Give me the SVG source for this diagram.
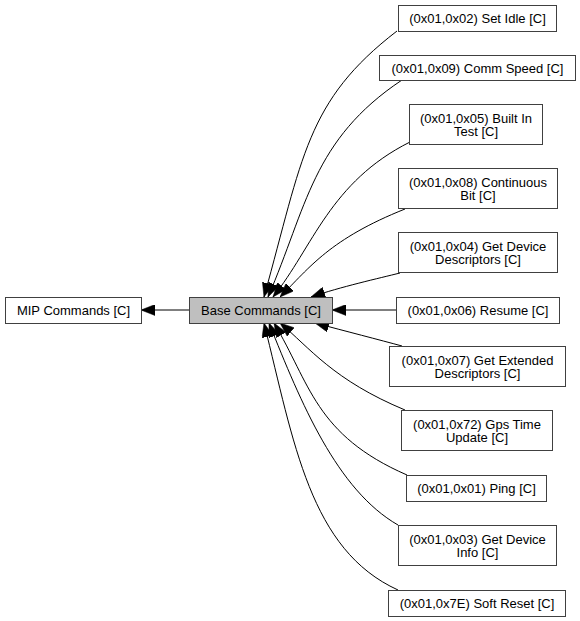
<svg xmlns="http://www.w3.org/2000/svg" width="580" height="621" viewBox="0 0 580 621">
<style>
.n rect{fill:#ffffff;stroke:#404040;stroke-width:1}
#base rect{fill:#bfbfbf}
text{font-family:"Liberation Sans",Arial,sans-serif;font-size:13px;fill:#000;text-anchor:middle}
.e path{fill:none;stroke:#000;stroke-width:1;marker-end:url(#ah)}
</style>
<defs>
<marker id="ah" markerUnits="userSpaceOnUse" markerWidth="14" markerHeight="11" viewBox="0 0 14 11" refX="14" refY="5.5" orient="auto">
<path d="M0,0 L14,5.5 L0,11 z" fill="#000" stroke="#000" stroke-width="0.5"/>
</marker>
</defs>
<rect width="580" height="621" fill="#fff"/>
<g class="e" id="edges">
<path d="M189,310 L141,310"/>
<path d="M397,31 C306,101 303,157 264,297"/>
<path d="M402,80 C312,140 307,207 268,297"/>
<path d="M410,142 C330,182 313,247 273,297"/>
<path d="M405,209 C330,239 310,267 280,297"/>
<path d="M400,273 C380,278 340,287 311,297"/>
<path d="M396,310 L332,310"/>
<path d="M402,346 C380,340 345,331 315,323"/>
<path d="M405,410 C333,380 310,348 280,323"/>
<path d="M407,475 C315,435 310,383 274,323"/>
<path d="M398,525 C337,490 301,403 269,323"/>
<path d="M398,590 C310,550 294,443 264,323"/>
</g>
<g class="n" id="mip"><rect x="5.5" y="297.5" width="136" height="26"/><text x="73.5" y="315">MIP Commands [C]</text></g>
<g class="n" id="base"><rect x="189.5" y="297.5" width="143" height="26"/><text x="261" y="315">Base Commands [C]</text></g>
<g class="n" id="setidle"><rect x="398.5" y="5.5" width="158" height="26"/><text x="477.5" y="23">(0x01,0x02) Set Idle [C]</text></g>
<g class="n" id="commspeed"><rect x="379.5" y="55.5" width="196" height="25"/><text x="477.5" y="72.5">(0x01,0x09) Comm Speed [C]</text></g>
<g class="n" id="builtin"><rect x="409.5" y="104.5" width="133" height="40"/><text x="476" y="122.5">(0x01,0x05) Built In</text><text x="476" y="136">Test [C]</text></g>
<g class="n" id="contbit"><rect x="398.5" y="168.5" width="159" height="40"/><text x="478" y="186.5">(0x01,0x08) Continuous</text><text x="478" y="200">Bit [C]</text></g>
<g class="n" id="getdevdesc"><rect x="398.5" y="232.5" width="159" height="40"/><text x="478" y="250.5">(0x01,0x04) Get Device</text><text x="478" y="264">Descriptors [C]</text></g>
<g class="n" id="resume"><rect x="396.5" y="297.5" width="163" height="26"/><text x="478" y="315">(0x01,0x06) Resume [C]</text></g>
<g class="n" id="getextdesc"><rect x="389.5" y="346.5" width="176" height="40"/><text x="477.5" y="364.5">(0x01,0x07) Get Extended</text><text x="477.5" y="378">Descriptors [C]</text></g>
<g class="n" id="gpstime"><rect x="401.5" y="410.5" width="151" height="40"/><text x="477" y="428.5">(0x01,0x72) Gps Time</text><text x="477" y="442">Update [C]</text></g>
<g class="n" id="ping"><rect x="406.5" y="475.5" width="140" height="26"/><text x="476.5" y="493">(0x01,0x01) Ping [C]</text></g>
<g class="n" id="getdevinfo"><rect x="398.5" y="525.5" width="158" height="40"/><text x="477.5" y="543.5">(0x01,0x03) Get Device</text><text x="477.5" y="557">Info [C]</text></g>
<g class="n" id="softreset"><rect x="388.5" y="590.5" width="177" height="26"/><text x="477" y="608">(0x01,0x7E) Soft Reset [C]</text></g>
</svg>
